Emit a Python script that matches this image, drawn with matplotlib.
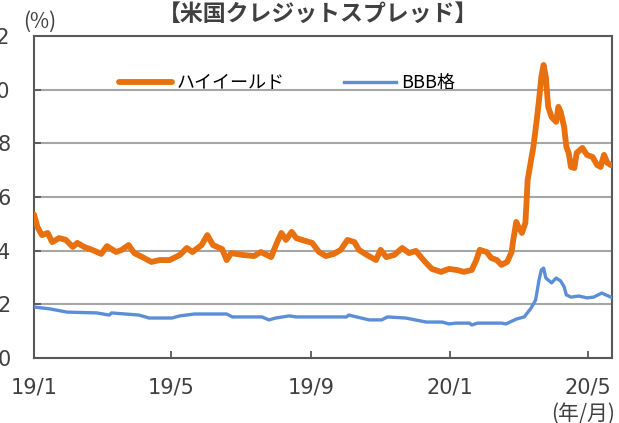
import pandas as pd
import matplotlib.pyplot as plt

plt.rcParams['font.family'] = ['Noto Sans CJK JP', 'DejaVu Sans']

# High yield spread (%)
hy_dates = ['2019-01-01', '2019-01-04', '2019-01-08', '2019-01-13', '2019-01-17', '2019-01-23',
            '2019-01-29', '2019-02-04', '2019-02-08', '2019-02-14', '2019-02-21', '2019-03-01',
            '2019-03-06', '2019-03-14', '2019-03-19', '2019-03-25', '2019-03-30', '2019-04-06',
            '2019-04-14', '2019-04-21', '2019-04-30', '2019-05-09', '2019-05-15', '2019-05-20',
            '2019-05-28', '2019-06-02', '2019-06-07', '2019-06-15', '2019-06-19', '2019-06-23',
            '2019-07-03', '2019-07-13', '2019-07-19', '2019-07-28', '2019-08-02', '2019-08-06',
            '2019-08-10', '2019-08-15', '2019-08-19', '2019-08-24', '2019-09-02', '2019-09-08',
            '2019-09-14', '2019-09-21', '2019-09-27', '2019-10-03', '2019-10-09', '2019-10-13',
            '2019-10-20', '2019-10-28', '2019-11-01', '2019-11-06', '2019-11-13', '2019-11-20',
            '2019-11-26', '2019-12-02', '2019-12-07', '2019-12-11', '2019-12-16', '2019-12-24',
            '2019-12-31', '2020-01-07', '2020-01-13', '2020-01-20', '2020-01-24', '2020-01-27',
            '2020-02-02', '2020-02-06', '2020-02-11', '2020-02-15', '2020-02-20', '2020-02-24',
            '2020-02-25', '2020-02-28', '2020-03-01', '2020-03-04', '2020-03-07', '2020-03-08',
            '2020-03-09', '2020-03-12', '2020-03-14', '2020-03-17', '2020-03-19', '2020-03-21',
            '2020-03-23', '2020-03-25', '2020-03-27', '2020-03-30', '2020-04-03', '2020-04-05',
            '2020-04-07', '2020-04-10', '2020-04-12', '2020-04-14', '2020-04-16', '2020-04-19',
            '2020-04-21', '2020-04-26', '2020-04-30', '2020-05-05', '2020-05-09', '2020-05-12',
            '2020-05-15', '2020-05-18', '2020-05-21']
hy_values = [5.35, 4.88, 4.58, 4.66, 4.32, 4.47,
             4.40, 4.14, 4.29, 4.14, 4.03, 3.88,
             4.17, 3.95, 4.03, 4.21, 3.91, 3.76,
             3.58, 3.65, 3.65, 3.84, 4.10, 3.95,
             4.21, 4.58, 4.21, 4.06, 3.65, 3.91,
             3.84, 3.80, 3.95, 3.76, 4.29, 4.66,
             4.40, 4.70, 4.47, 4.40, 4.29, 3.95,
             3.80, 3.88, 4.03, 4.40, 4.32, 4.03,
             3.84, 3.65, 4.03, 3.76, 3.84, 4.10,
             3.91, 3.99, 3.73, 3.54, 3.32, 3.21,
             3.32, 3.28, 3.21, 3.28, 3.65, 4.03,
             3.95, 3.73, 3.65, 3.47, 3.58, 3.95,
             4.29, 5.07, 4.88, 4.66, 5.03, 5.78,
             6.63, 7.38, 7.86, 8.87, 9.62, 10.47,
             10.92, 10.47, 9.36, 8.98, 8.80, 9.36,
             9.17, 8.61, 7.86, 7.64, 7.12, 7.08,
             7.64, 7.83, 7.57, 7.49, 7.19, 7.12,
             7.57, 7.27, 7.19]

# BBB spread (%)
bbb_dates = ['2019-01-01', '2019-01-15', '2019-01-30', '2019-02-25', '2019-03-08', '2019-03-10',
             '2019-04-03', '2019-04-12', '2019-05-02', '2019-05-09', '2019-05-22', '2019-06-19',
             '2019-06-24', '2019-07-20', '2019-07-26', '2019-08-01', '2019-08-13', '2019-08-19',
             '2019-10-02', '2019-10-04', '2019-10-22', '2019-11-02', '2019-11-07', '2019-11-23',
             '2019-12-11', '2019-12-25', '2019-12-31', '2020-01-06', '2020-01-18', '2020-01-20',
             '2020-01-25', '2020-02-15', '2020-02-19', '2020-02-28', '2020-03-06', '2020-03-12',
             '2020-03-16', '2020-03-19', '2020-03-21', '2020-03-23', '2020-03-25', '2020-03-30',
             '2020-04-03', '2020-04-07', '2020-04-10', '2020-04-12', '2020-04-16', '2020-04-23',
             '2020-04-30', '2020-05-06', '2020-05-13', '2020-05-21']
bbb_values = [1.90, 1.83, 1.71, 1.68, 1.60, 1.68,
              1.60, 1.49, 1.49, 1.57, 1.64, 1.64,
              1.53, 1.53, 1.42, 1.49, 1.57, 1.53,
              1.53, 1.60, 1.42, 1.42, 1.53, 1.49,
              1.34, 1.34, 1.27, 1.30, 1.30, 1.23,
              1.30, 1.30, 1.27, 1.45, 1.53, 1.86,
              2.16, 2.91, 3.28, 3.35, 2.98, 2.80,
              2.98, 2.87, 2.65, 2.35, 2.27, 2.31,
              2.24, 2.27, 2.42, 2.27]

tick_dates = ['2019-01-01', '2019-05-01', '2019-09-01', '2020-01-01', '2020-05-01']
tick_labels = ['19/1', '19/5', '19/9', '20/1', '20/5']

fig = plt.figure(figsize=(6.19, 4.23), dpi=100)
ax = fig.add_axes([34 / 619, 65 / 423, 578 / 619, 322 / 423])

ax.plot(pd.to_datetime(hy_dates), hy_values, color='#E8700E', lw=4.2,
        solid_joinstyle='round', solid_capstyle='round', label='ハイイールド', zorder=3)
ax.plot(pd.to_datetime(bbb_dates), bbb_values, color='#5B8ED6', lw=2.4,
        solid_joinstyle='round', label='BBB格', zorder=3)

ax.set_xlim(pd.Timestamp('2019-01-01'), pd.Timestamp('2020-05-22'))
ax.set_ylim(0, 12)
ax.set_yticks(range(0, 13, 2))
ax.set_xticks(pd.to_datetime(tick_dates))
ax.set_xticklabels(tick_labels)
ax.grid(axis='y', color='#A6A6A6', lw=1.5)
ax.set_axisbelow(True)

for side in ['left', 'bottom', 'top', 'right']:
    ax.spines[side].set_color('#595959')
    ax.spines[side].set_linewidth(1.5)
ax.tick_params(axis='both', direction='in', length=5, width=1.3, colors='#595959',
               labelcolor='#404040', labelsize=15)
ax.tick_params(axis='x', pad=14)
ax.tick_params(axis='y', pad=17)
for lab in ax.get_xticklabels() + ax.get_yticklabels():
    lab.set_family('DejaVu Sans')

ax.legend(loc='center', bbox_to_anchor=(0.438, 0.854), ncol=2, frameon=False,
          fontsize=13, handlelength=2.9, handletextpad=0.25, columnspacing=3.3)

fig.text(318 / 619, 1 - 14 / 423, '【米国クレジットスプレッド】', ha='center', va='center',
         fontsize=16.5, fontweight='bold', color='#404040')
fig.text(40 / 619, 1 - 22 / 423, '(%)', ha='center', va='center', fontsize=15, color='#404040')
fig.text(583 / 619, 1 - 414 / 423, '(年/月)', ha='center', va='center', fontsize=15,
         color='#404040')

fig.savefig('out.png', dpi=100)
